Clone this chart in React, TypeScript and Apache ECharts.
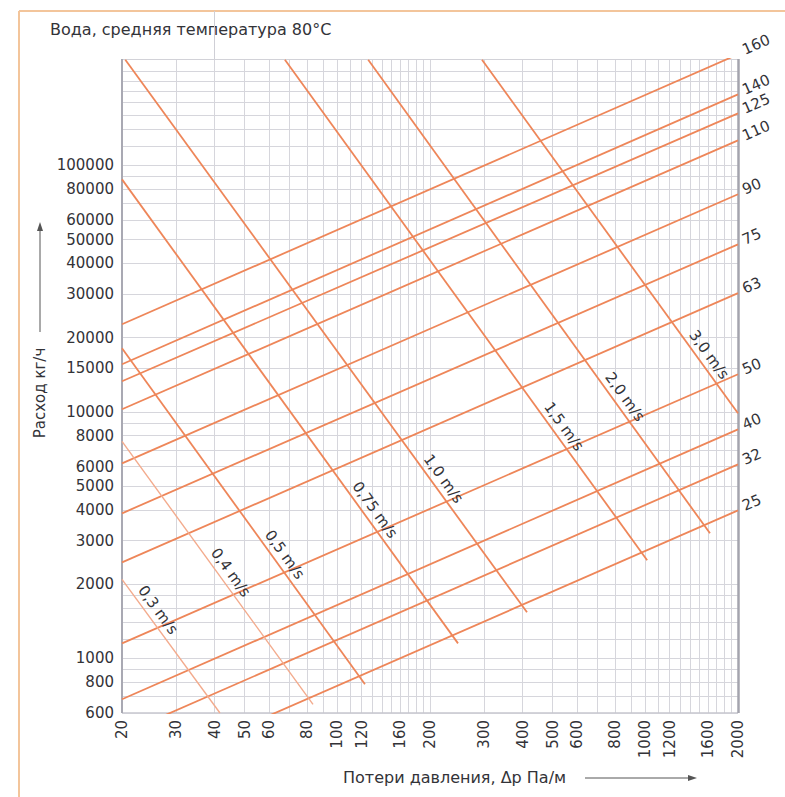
import React, { useEffect, useRef } from 'react';
import * as echarts from 'echarts';

// ---- axis ticks / grid ----
const pressureTicks = [20, 30, 40, 50, 60, 80, 100, 120, 160, 200, 300, 400, 500, 600, 800, 1000, 1200, 1600, 2000];
const flowTicks = [600, 800, 1000, 2000, 3000, 4000, 5000, 6000, 8000, 10000, 15000, 20000, 30000, 40000, 50000, 60000, 80000, 100000];
const pressureGrid = [20, 30, 40, 50, 60, 70, 80, 90, 100, 110, 120, 130, 140, 150, 160, 170, 180, 190, 200, 300, 400, 500, 600, 700, 800, 900, 1000, 1100, 1200, 1300, 1400, 1500, 1600, 1700, 1800, 1900, 2000];
const flowGrid = [600, 700, 800, 900, 1000, 1200, 1400, 1600, 1800, 2000, 3000, 4000, 5000, 6000, 7000, 8000, 9000, 10000, 15000, 20000, 30000, 40000, 50000, 60000, 70000, 80000, 90000, 100000, 120000, 140000, 160000, 180000, 200000, 220000, 240000];

const P_MIN = 20;
const P_MAX = 2000;
const Q_MIN = 600;
const Q_MAX = 270000;

// ---- pipe diameter lines (flow kg/h at 20 Pa/m and at 2000 Pa/m) ----
const diameters = ['160', '140', '125', '110', '90', '75', '63', '50', '40', '32', '25'];
const diameterFlowAt20 = [22650, 15590, 13300, 10240, 6180, 3875, 2450, 1150, 682, 493, 321];
const diameterFlowAt2000 = [282000, 194000, 162500, 126300, 76300, 47800, 30300, 14200, 8490, 6120, 3980];

// ---- velocity lines [Pa/m, kg/h] ----
const velocities = ['0,3 m/s', '0,4 m/s', '0,5 m/s', '0,75 m/s', '1,0 m/s', '1,5 m/s', '2,0 m/s', '3,0 m/s'];
const velocityStart = [[20, 2090], [20, 7590], [20, 18100], [20, 87700], [20.5, 268000], [67.6, 268000], [126, 268000], [295, 268000]];
const velocityEnd = [[41.6, 600], [83.4, 650], [123, 785], [246.6, 1150], [413, 1537], [1014, 2500], [1622, 3214], [2000, 9860]];
const velocityLabelAt = [24.5, 42.2, 63.2, 124, 207, 509, 804, 1507];

const ORANGE = '#ee8659';
const ORANGE_LIGHT = '#f3ab8d';
const TEXT = '#333338';
const FONT = '"DejaVu Sans", "Noto Sans", sans-serif';

export default function App() {
  const ref = useRef<HTMLDivElement>(null);

  useEffect(() => {
    document.body.style.margin = '0';
    if (!ref.current) return;
    const chart = echarts.init(ref.current, undefined, { renderer: 'svg' });

    const series: any[] = [];

    // grid lines
    series.push({
      type: 'lines',
      coordinateSystem: 'cartesian2d',
      silent: true,
      z: 1,
      lineStyle: { color: '#d6d6dc', width: 1, opacity: 1 },
      data: [
        ...pressureGrid.map((p) => ({ coords: [[p, Q_MIN], [p, Q_MAX]] })),
        ...flowGrid.map((q) => ({ coords: [[P_MIN, q], [P_MAX, q]] })),
      ],
    });
    // frame of plot
    const edge = (coords: number[][], color: string, width: number) => ({
      coords,
      lineStyle: { color, width, opacity: 1 },
    });
    series.push({
      type: 'lines',
      coordinateSystem: 'cartesian2d',
      silent: true,
      z: 2,
      clip: false,
      data: [
        edge([[P_MIN, Q_MAX], [P_MAX, Q_MAX]], '#d2d2d8', 1),
        edge([[P_MIN, Q_MIN], [P_MAX, Q_MIN]], '#c6c6ce', 1.5),
        edge([[P_MIN, Q_MIN], [P_MIN, Q_MAX]], '#a9a9b3', 2),
        edge([[P_MAX, Q_MIN], [P_MAX, Q_MAX]], '#a4a4ae', 2.5),
        edge([[40, Q_MAX], [40, 423000]], '#cfcfd6', 1),
      ],
    });

    diameters.forEach((d, i) => {
      series.push({
        type: 'line',
        name: 'D' + d,
        data: [[P_MIN, diameterFlowAt20[i]], [P_MAX, diameterFlowAt2000[i]]],
        symbol: 'none',
        showSymbol: false,
        clip: true,
        silent: true,
        z: 3,
        lineStyle: { color: ORANGE, width: 1.8 },
      });
    });

    velocities.forEach((v, i) => {
      const light = i < 2;
      series.push({
        type: 'line',
        name: v,
        data: [velocityStart[i], velocityEnd[i]],
        symbol: 'none',
        showSymbol: false,
        clip: true,
        silent: true,
        z: 3,
        lineStyle: { color: light ? ORANGE_LIGHT : ORANGE, width: light ? 1.4 : 1.8 },
      });
    });

    // x tick labels
    series.push({
      type: 'custom',
      coordinateSystem: 'cartesian2d',
      silent: true,
      clip: false,
      z: 5,
      data: pressureTicks.map((p) => [p, Q_MIN]),
      renderItem: (params: any, api: any) => {
        const pt = api.coord([api.value(0), api.value(1)]);
        return {
          type: 'text',
          x: pt[0],
          y: pt[1] + 7,
          rotation: Math.PI / 2,
          style: {
            text: String(pressureTicks[params.dataIndex]),
            align: 'right',
            verticalAlign: 'middle',
            fill: TEXT,
            font: '15px ' + FONT,
          },
        };
      },
    });

    // y tick labels
    series.push({
      type: 'custom',
      coordinateSystem: 'cartesian2d',
      silent: true,
      clip: false,
      z: 5,
      data: flowTicks.map((q) => [P_MIN, q]),
      renderItem: (params: any, api: any) => {
        const pt = api.coord([api.value(0), api.value(1)]);
        return {
          type: 'text',
          x: pt[0] - 8,
          y: pt[1],
          style: {
            text: String(flowTicks[params.dataIndex]),
            align: 'right',
            verticalAlign: 'middle',
            fill: TEXT,
            font: '15px ' + FONT,
          },
        };
      },
    });

    // diameter labels
    series.push({
      type: 'custom',
      coordinateSystem: 'cartesian2d',
      silent: true,
      clip: false,
      z: 5,
      data: diameters.map((d, i) => [P_MAX, diameterFlowAt2000[i]]),
      renderItem: (params: any, api: any) => {
        const i = params.dataIndex;
        const a = api.coord([P_MIN, diameterFlowAt20[i]]);
        const b = api.coord([P_MAX, diameterFlowAt2000[i]]);
        const ang = Math.atan2(b[1] - a[1], b[0] - a[0]);
        return {
          type: 'text',
          x: b[0] + 5,
          y: b[1] - 4,
          rotation: -ang,
          style: {
            text: diameters[i],
            align: 'left',
            verticalAlign: 'middle',
            fill: TEXT,
            font: '15px ' + FONT,
          },
        };
      },
    });

    // velocity labels
    const velLabelPoints = velocities.map((v, i) => {
      const [x1, y1] = velocityStart[i];
      const [x2, y2] = velocityEnd[i];
      const t = (Math.log(velocityLabelAt[i]) - Math.log(x1)) / (Math.log(x2) - Math.log(x1));
      return [velocityLabelAt[i], Math.exp(Math.log(y1) + t * (Math.log(y2) - Math.log(y1)))];
    });
    series.push({
      type: 'custom',
      coordinateSystem: 'cartesian2d',
      silent: true,
      clip: false,
      z: 6,
      data: velLabelPoints,
      renderItem: (params: any, api: any) => {
        const i = params.dataIndex;
        const p = api.coord([api.value(0), api.value(1)]);
        const a = api.coord(velocityStart[i]);
        const b = api.coord(velocityEnd[i]);
        const ang = Math.atan2(b[1] - a[1], b[0] - a[0]);
        const off = 11;
        return {
          type: 'text',
          x: p[0] + Math.sin(ang) * off,
          y: p[1] - Math.cos(ang) * off,
          rotation: -ang,
          style: {
            text: velocities[i],
            align: 'center',
            verticalAlign: 'middle',
            fill: TEXT,
            font: '15px ' + FONT,
          },
        };
      },
    });

    chart.setOption({
      animation: false,
      backgroundColor: '#ffffff',
      grid: { left: 122, top: 59, right: 47, bottom: 84, containLabel: false },
      xAxis: {
        type: 'log',
        logBase: 10,
        min: P_MIN,
        max: P_MAX,
        axisLine: { show: false },
        axisTick: { show: false },
        axisLabel: { show: false },
        splitLine: { show: false },
        minorSplitLine: { show: false },
      },
      yAxis: {
        type: 'log',
        logBase: 10,
        min: Q_MIN,
        max: Q_MAX,
        axisLine: { show: false },
        axisTick: { show: false },
        axisLabel: { show: false },
        splitLine: { show: false },
        minorSplitLine: { show: false },
      },
      graphic: [
        { type: 'line', silent: true, shape: { x1: 19, y1: 11, x2: 785, y2: 11 }, style: { stroke: '#f3c59b', lineWidth: 2 } },
        { type: 'line', silent: true, shape: { x1: 19, y1: 11, x2: 19, y2: 797 }, style: { stroke: '#f3c59b', lineWidth: 2 } },
        {
          type: 'text',
          x: 50,
          y: 29,
          silent: true,
          style: { text: 'Вода, средняя температура 80°C', font: '16px ' + FONT, fill: TEXT, align: 'left', verticalAlign: 'middle' },
        },
        {
          type: 'text',
          x: 343,
          y: 777,
          silent: true,
          style: { text: 'Потери давления, Δp Па/м', font: '16px ' + FONT, fill: TEXT, align: 'left', verticalAlign: 'middle' },
        },
        { type: 'line', silent: true, shape: { x1: 585, y1: 778, x2: 690, y2: 778 }, style: { stroke: '#555', lineWidth: 1 } },
        { type: 'polygon', silent: true, shape: { points: [[697, 778], [688, 775], [688, 781]] }, style: { fill: '#555' } },
        {
          type: 'text',
          x: 40,
          y: 393,
          rotation: Math.PI / 2,
          silent: true,
          style: { text: 'Расход кг/ч', font: '15px ' + FONT, fill: TEXT, align: 'center', verticalAlign: 'middle' },
        },
        { type: 'line', silent: true, shape: { x1: 40, y1: 332, x2: 40, y2: 229 }, style: { stroke: '#555', lineWidth: 1 } },
        { type: 'polygon', silent: true, shape: { points: [[40, 222], [37, 231], [43, 231]] }, style: { fill: '#555' } },
      ],
      series,
    });

    return () => {
      chart.dispose();
    };
  }, []);

  return <div ref={ref} style={{ width: 785, height: 797 }} />;
}
